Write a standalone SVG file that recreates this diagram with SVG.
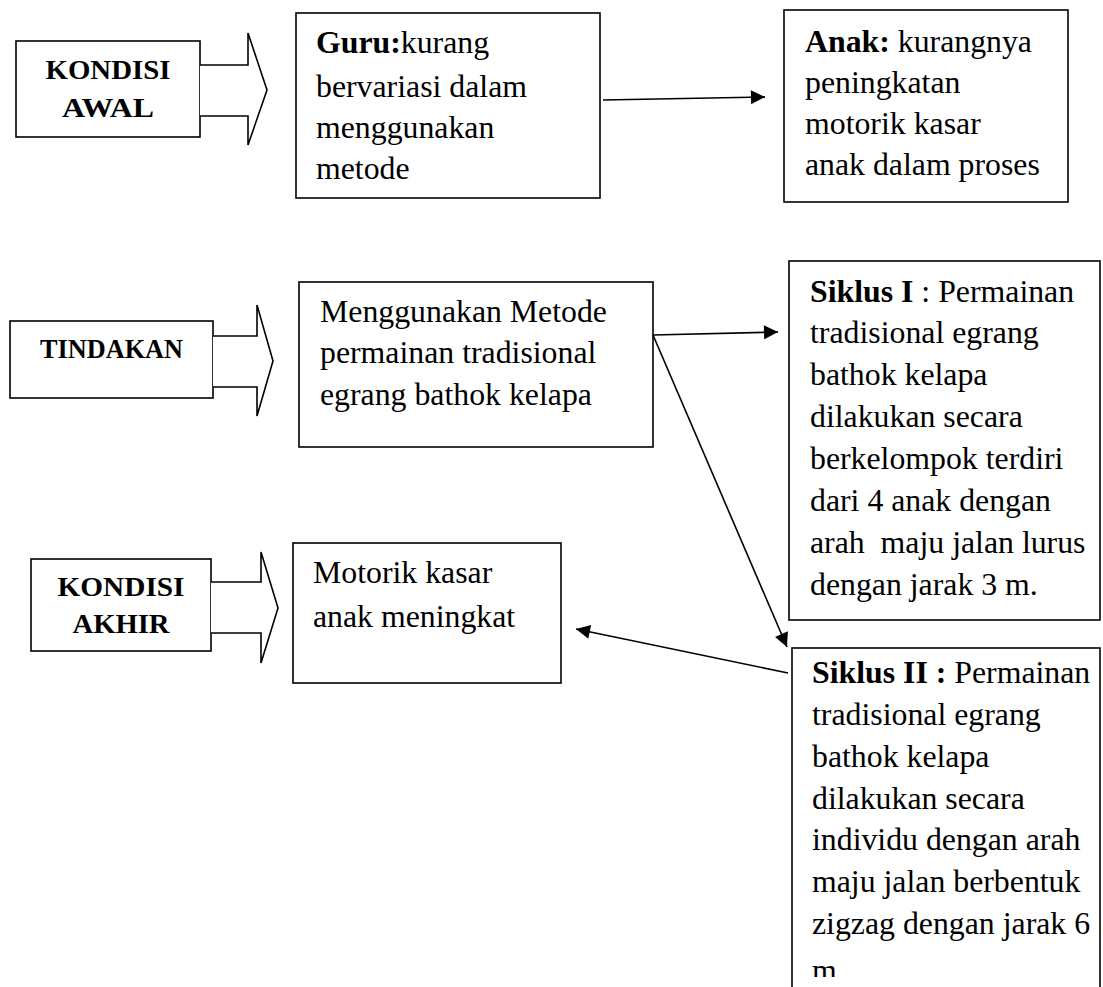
<svg xmlns="http://www.w3.org/2000/svg" width="1103" height="987" viewBox="0 0 1103 987">
<defs>
<style>
.box{fill:#fff;stroke:#000;stroke-width:1.6}
.blk{fill:#fff;stroke:#000;stroke-width:1.6;stroke-linejoin:miter}
.t{font-family:"Liberation Serif","Times New Roman",serif;font-size:31.8px;fill:#000}
.lb{font-family:"Liberation Serif","Times New Roman",serif;font-weight:bold;font-size:28px;fill:#000;text-anchor:middle}
.b{font-weight:bold}
.c{fill:none;stroke:#000;stroke-width:1.6}
</style>
<marker id="ah" viewBox="0 0 10 10" refX="10" refY="5" markerWidth="15" markerHeight="14" markerUnits="userSpaceOnUse" orient="auto">
<path d="M0,0 L10,5 L0,10 z" fill="#000"/>
</marker>
<clipPath id="pg"><rect x="0" y="0" width="1103" height="977"/></clipPath>
</defs>
<rect width="1103" height="987" fill="#fff"/>

<g id="kondisi-awal">
<rect class="box" x="16" y="41" width="184" height="96"/>
<text class="lb" x="108" y="79" textLength="125" lengthAdjust="spacingAndGlyphs">KONDISI</text>
<text class="lb" x="108" y="117" textLength="92" lengthAdjust="spacingAndGlyphs">AWAL</text>
<path class="blk" d="M200,65 H248 V33 L267,90 L248,145 V116 H200"/>
</g>

<g id="guru">
<rect class="box" x="296" y="13" width="304" height="185"/>
<text class="t" x="316" y="53"><tspan class="b">Guru:</tspan>kurang</text>
<text class="t" x="316" y="97">bervariasi dalam</text>
<text class="t" x="316" y="138">menggunakan</text>
<text class="t" x="316" y="179">metode</text>
</g>

<g id="anak">
<rect class="box" x="784" y="10" width="284" height="192"/>
<text class="t" x="805" y="52"><tspan class="b">Anak:</tspan> kurangnya</text>
<text class="t" x="805" y="93">peningkatan</text>
<text class="t" x="805" y="134">motorik kasar</text>
<text class="t" x="805" y="175">anak dalam proses</text>
</g>

<g id="tindakan">
<rect class="box" x="10" y="321" width="203" height="77"/>
<text class="lb" x="111.5" y="358" textLength="143" lengthAdjust="spacingAndGlyphs">TINDAKAN</text>
<path class="blk" d="M213,336 H257 V305 L273,361 L257,416 V387 H213"/>
</g>

<g id="metode">
<rect class="box" x="299" y="282" width="354" height="165"/>
<text class="t" x="320" y="322">Menggunakan Metode</text>
<text class="t" x="320" y="363">permainan tradisional</text>
<text class="t" x="320" y="405">egrang bathok kelapa</text>
</g>

<g id="siklus-1">
<rect class="box" x="789" y="261" width="311" height="359"/>
<text class="t" x="810" y="302"><tspan class="b">Siklus I</tspan> : Permainan</text>
<text class="t" x="810" y="343">tradisional egrang</text>
<text class="t" x="810" y="385">bathok kelapa</text>
<text class="t" x="810" y="427">dilakukan secara</text>
<text class="t" x="810" y="469">berkelompok terdiri</text>
<text class="t" x="810" y="511">dari 4 anak dengan</text>
<text class="t" x="810" y="553" xml:space="preserve">arah  maju jalan lurus</text>
<text class="t" x="810" y="595">dengan jarak 3 m.</text>
</g>

<g id="kondisi-akhir">
<rect class="box" x="31" y="559" width="180" height="92"/>
<text class="lb" x="121" y="596" textLength="127" lengthAdjust="spacingAndGlyphs">KONDISI</text>
<text class="lb" x="121" y="633" textLength="97" lengthAdjust="spacingAndGlyphs">AKHIR</text>
<path class="blk" d="M211,582 H261 V552 L278,608 L261,663 V633 H211"/>
</g>

<g id="motorik">
<rect class="box" x="293" y="543" width="268" height="140"/>
<text class="t" x="313" y="583">Motorik kasar</text>
<text class="t" x="313" y="627">anak meningkat</text>
</g>

<g id="siklus-2">
<rect class="box" x="792" y="648" width="308" height="360"/>
<text class="t" x="812" y="683"><tspan class="b">Siklus II :</tspan> Permainan</text>
<text class="t" x="812" y="725">tradisional egrang</text>
<text class="t" x="812" y="767">bathok kelapa</text>
<text class="t" x="812" y="809">dilakukan secara</text>
<text class="t" x="812" y="850">individu dengan arah</text>
<text class="t" x="812" y="892">maju jalan berbentuk</text>
<text class="t" x="812" y="934">zigzag dengan jarak 6</text>
<text class="t" x="812" y="981" clip-path="url(#pg)">m.</text>
</g>

<g id="connectors">
<line class="c" x1="603" y1="100" x2="765" y2="97" marker-end="url(#ah)"/>
<line class="c" x1="653" y1="335" x2="778" y2="332" marker-end="url(#ah)"/>
<line class="c" x1="653" y1="335" x2="787" y2="647" marker-end="url(#ah)"/>
<line class="c" x1="788" y1="673" x2="576" y2="629" marker-end="url(#ah)"/>
</g>
</svg>
